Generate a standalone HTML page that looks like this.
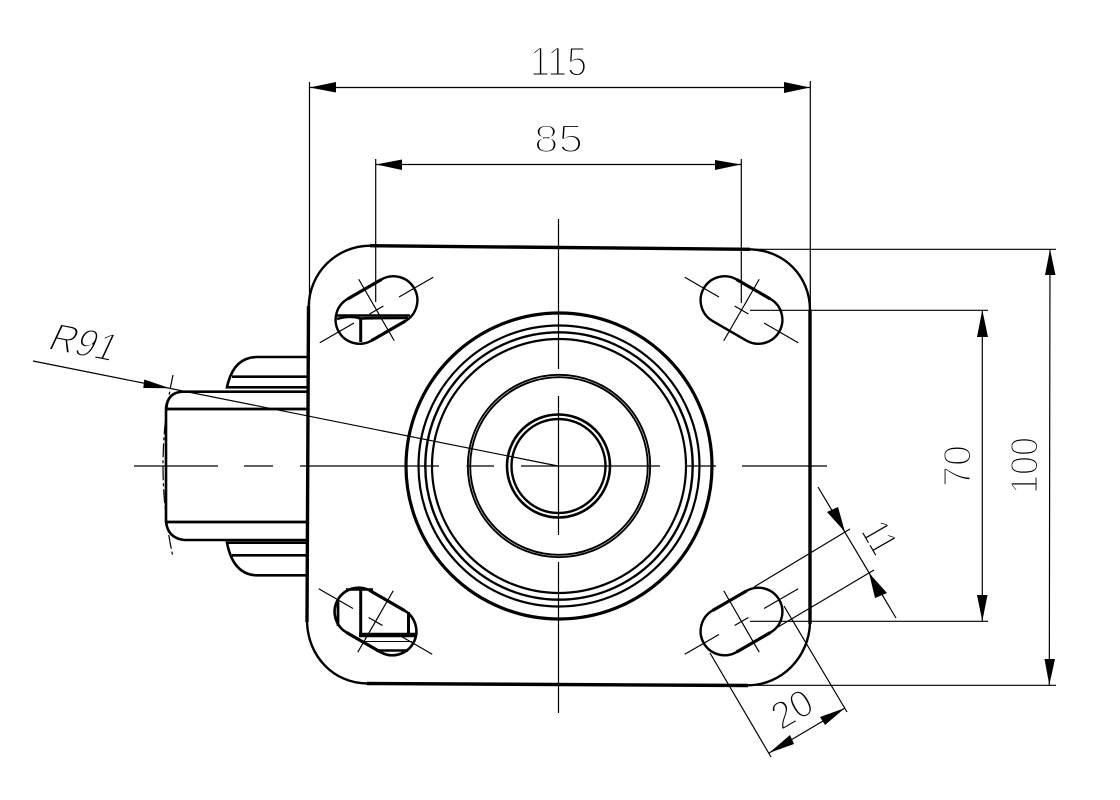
<!DOCTYPE html>
<html>
<head>
<meta charset="utf-8">
<style>
html,body{margin:0;padding:0;background:#fff;}
svg{display:block;}
text{font-family:"Liberation Sans",sans-serif;fill:#000;stroke:#fff;stroke-width:2px;}
</style>
</head>
<body>
<svg width="1120" height="800" viewBox="0 0 1120 800" xmlns="http://www.w3.org/2000/svg">
<rect width="1120" height="800" fill="#fff"/>
<!-- text -->
<text x="530" y="75.500" font-size="41" textLength="57" lengthAdjust="spacingAndGlyphs">115</text>
<text x="534" y="152" font-size="39" textLength="49" lengthAdjust="spacingAndGlyphs">85</text>
<text transform="translate(970.500,487) rotate(-90)" font-size="39" textLength="42" lengthAdjust="spacingAndGlyphs">70</text>
<text transform="translate(1037.500,494) rotate(-90)" font-size="39" textLength="57" lengthAdjust="spacingAndGlyphs">100</text>
<text transform="translate(781,731) rotate(-30)" font-size="39" textLength="41" lengthAdjust="spacingAndGlyphs" style="stroke-width:1.800px">20</text>
<text transform="translate(860,531) rotate(60)" font-size="40" textLength="31" lengthAdjust="spacingAndGlyphs" style="stroke-width:1.800px">11</text>
<text transform="translate(46,349) rotate(11) skewX(-14)" font-size="40" textLength="66" lengthAdjust="spacingAndGlyphs" style="stroke-width:1.800px">R91</text>

<!-- thin lines -->
<g fill="none" stroke="#000" stroke-width="1.200">
  <path d="M309.5 82V306M810.3 81V310M375.7 159V302M741.3 159V303"/>
  <path d="M310 87.5H810M376 164.5H741"/>
  <path d="M750 249.3H1056M750 310.3H988M750 621.3H988M748 685.3H1056"/>
  <path d="M982.3 310V621M1050 249L1049.3 685"/>
  <path d="M818 487L896 618M754 587L850 529M778 627L874 570"/>
  <path d="M769 753L845 708M710 653L771 757M784 606L847 712"/>
  <path d="M33 361L558 466"/>
  <path d="M134 466H218M244 466H273M300 466H439M466.500 466H494M521 466H660M687 466H716M742 466H827"/>
  <path d="M558.500 219V369M558.500 396V535M558.500 562V713"/>
  <path d="M173 375Q153 466 173 557" stroke-dasharray="14 3 3 3"/>
</g>

<!-- arrowheads -->
<g fill="#000" stroke="none">
  <path d="M309.5 87.500L336 82V92.500Z"/>
  <path d="M810 87.500L784 82V93Z"/>
  <path d="M376 164.500L402 159.500V170Z"/>
  <path d="M741 164.500L715 160V170Z"/>
  <path d="M982.3 310L977 337H988Z"/>
  <path d="M982.3 621.300L977 595H987.500Z"/>
  <path d="M1050 249.300L1045 275H1055.500Z"/>
  <path d="M1049.300 685L1044.500 659H1055Z"/>
  <path d="M845 532L827 512L838 507Z"/>
  <path d="M869 573L875 598L887 593Z"/>
  <path d="M769 753L790 735L794 744Z"/>
  <path d="M845 708L820 717L825 725Z"/>
  <path d="M170 388.300L144.300 379.500L143.300 388Z"/>
</g>

<!-- circles -->
<g fill="none" stroke="#000">
  <circle cx="559" cy="466" r="153" stroke-width="3.200"/>
  <circle cx="559" cy="466" r="140.500" stroke-width="2.200"/>
  <circle cx="559" cy="466" r="133.700" stroke-width="2.400"/>
  <circle cx="559" cy="466" r="127" stroke-width="2.200"/>
  <circle cx="559" cy="466" r="91.200" stroke-width="1.900"/>
  <circle cx="559" cy="466" r="88.800" stroke-width="1.900"/>
  <circle cx="558.500" cy="466" r="51.500" stroke-width="2.600"/>
  <circle cx="558.500" cy="466" r="47" stroke-width="2.400"/>
</g>

<!-- plate -->
<g fill="none" stroke="#000" stroke-width="2.400">
  <path d="M308.700 307C309 273 336 246 370 245.700"/>
  <path d="M750 249.300C784 250 810 276 810 310"/>
  <path d="M810 623C809 657 782 685 748 685.300"/>
  <path d="M307 622C308 656 333 683 367 683.500"/>
  <g stroke-width="3.400">
    <path d="M370 245.700L750 249.300"/>
    <path d="M810 310V624"/>
    <path d="M367 683.500L748 685.500"/>
    <path d="M308.500 306L307 622"/>
  </g>
</g>

<!-- left assembly -->
<g fill="none" stroke="#000" stroke-width="2.600">
  <path d="M308 391.700H183Q168 392 166 408L166 522Q168 538 184 540H308"/>
  <path d="M166 409H308M166 522H308" stroke-width="2.800"/>
  <path d="M308 357H256Q233 358 227 387.300H308M232 376.700H308"/>
  <path d="M308 542.700H227Q233 574 256 575.300H308M232 555.300H308"/>
</g>

<!-- slots -->
<g fill="none" stroke="#000">
  <g transform="translate(376.500,310) rotate(-30)">
    <rect x="-43.500" y="-24" width="87" height="48" rx="24" stroke-width="2.400"/>
    <path d="M-19.500 -24H19.500M-19.500 24H19.500" stroke-width="3.200"/>
    <path d="M-65.500 0H-26M-8 0H8M26 0H65.500M0 -35.500V35.500" stroke-width="1.200"/>
  </g>
  <g transform="translate(741.500,310) rotate(30)">
    <rect x="-43.500" y="-24" width="87" height="48" rx="24" stroke-width="2.400"/>
    <path d="M-19.500 -24H19.500" stroke-width="3.200"/>
    <path d="M-65.500 0H-26M-8 0H8M26 0H65.500M0 -35.500V35.500" stroke-width="1.200"/>
  </g>
  <g transform="translate(741.500,621.500) rotate(-30)">
    <rect x="-43.500" y="-24" width="87" height="48" rx="24" stroke-width="2.400"/>
    <path d="M-19.500 -24H19.500M-19.500 24H19.500" stroke-width="3.200"/>
    <path d="M-65.500 0H-26M-8 0H8M26 0H65.500M0 -35.500V35.500" stroke-width="1.200"/>
  </g>
  <g transform="translate(375.500,621.500) rotate(30)">
    <rect x="-43.500" y="-24" width="87" height="48" rx="24" stroke-width="2.600"/>
    <path d="M-19.500 -24H19.500M-19.500 24H19.500" stroke-width="3.200"/>
    <path d="M-65.500 0H-26M-8 0H8M26 0H65.500M0 -35.500V35.500" stroke-width="1.200"/>
  </g>
  <!-- top-left slot inner detail -->
  <path d="M337 315.500H410" stroke-width="2.400"/>
  <path d="M337 319Q350 315 360.700 318.500Q372 318 408 318" stroke-width="2.600"/>
  <path d="M360.700 318V342" stroke-width="3"/>
  <!-- bottom-left slot inner detail -->
  <path d="M360.700 590V635" stroke-width="3"/>
  <path d="M408.500 612V635" stroke-width="3"/>
  <path d="M359 635H417" stroke-width="4.400"/>
  <path d="M365 641.500H412" stroke-width="1"/>
  <path d="M376 650.500H408" stroke-width="2.400"/>
  <path d="M346 589.500H373" stroke-width="2.400"/>
  <path d="M338 600V626" stroke-width="2.800"/>
</g>
</svg>
</body>
</html>
